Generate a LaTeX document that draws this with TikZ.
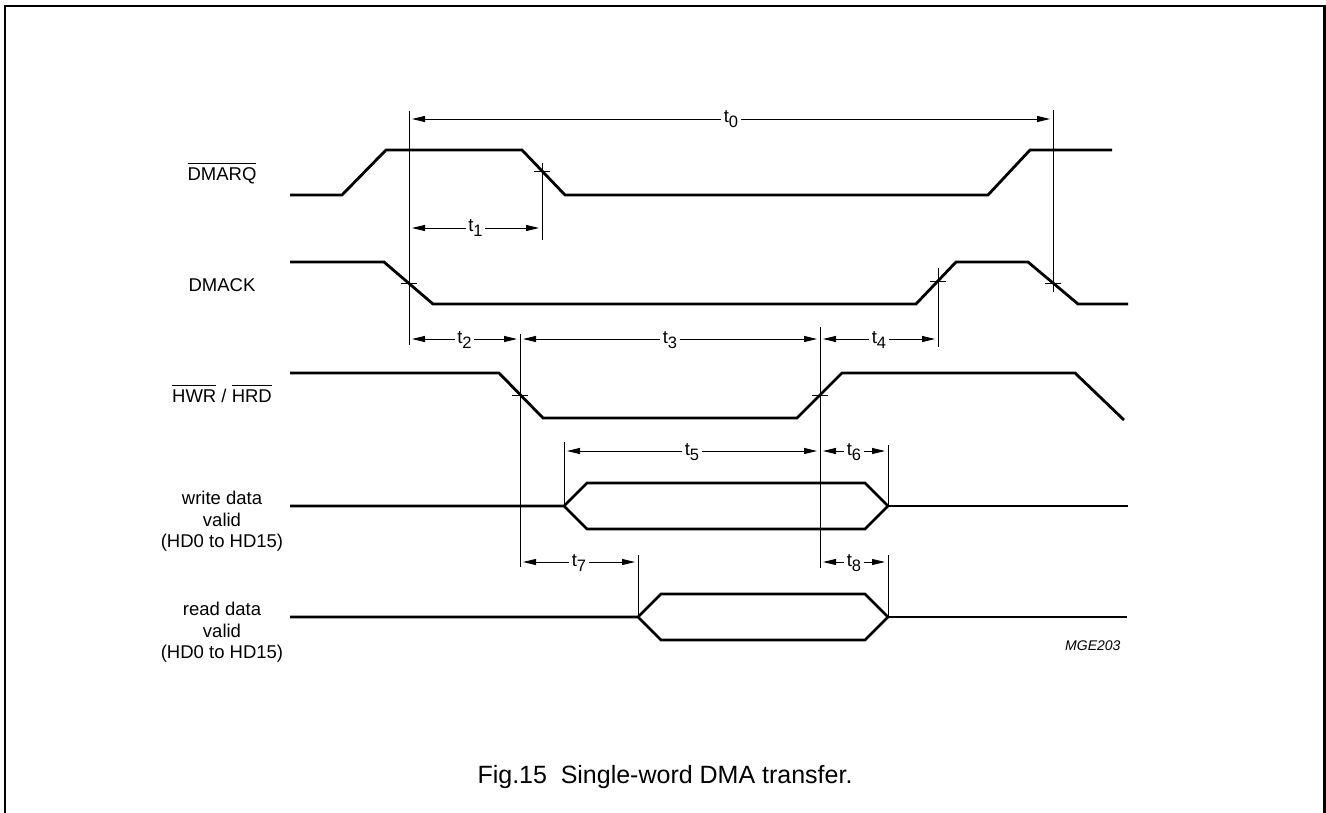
\documentclass[tikz,border=0pt]{standalone}
\usepackage{fontspec}
\setmainfont{Liberation Sans}
\usetikzlibrary{arrows.meta}
\newcommand\barsig[1]{\vbox{\hrule height 1.3pt\kern 3.5pt\hbox{#1}}}
\newcommand\tsub[1]{t\raisebox{-5pt}{\fontsize{16.5}{16.5}\selectfont #1}}
\tikzset{
  wave/.style={line width=2.8pt},
  guide/.style={line width=0.9pt},
  dim/.style={>={Triangle[length=13pt,width=6pt]}, <->, line width=0.9pt,
    shorten <=3pt, shorten >=3pt},
  tlab/.style={fill=white, inner sep=2.5pt, anchor=base, yshift=-4pt,
    font=\fontsize{18.5}{18.5}\selectfont},
  sig/.style={font=\fontsize{18.5}{21.5}\selectfont, align=center}
}
\begin{document}
\begin{tikzpicture}[x=1pt,y=-1pt]
      \useasboundingbox (0,0) rectangle (1326,813);
      \draw[line width=2.2pt] (5,813) -- (5,6) -- (1324.5,6) -- (1324.5,813);
      \node[sig,anchor=base] (dmarq) at (222,180.6) {\barsig{DMARQ}};
      \node[sig,anchor=base] (dmack) at (222,291.6) {DMACK};
      \node[sig,anchor=base] (hwr) at (222,402.6) {\barsig{HWR} / \barsig{HRD}};
      \node[sig] (wdata) at (222,521.5) {write data\\valid\\(HD0 to HD15)};
      \node[sig] (rdata) at (222,632.5) {read data\\valid\\(HD0 to HD15)};
      \node[font=\fontsize{14}{14}\selectfont\itshape, anchor=base east]
        (mge) at (1124,650) {MGE203};
      \node[font=\fontsize{25}{25}\selectfont, anchor=base west]
        (fig) at (474,783) {Fig.15\hspace{0.55em}Single-word DMA transfer.};
      % waveforms
      \draw[wave] (290,195) -- (342,195) -- (386,150) -- (522,150) -- (565,195)
        -- (988,195) -- (1030,150) -- (1112,150);
      \draw[wave] (290,262) -- (384,262) -- (433,304) -- (916,304) -- (956,262)
        -- (1028,262) -- (1078,304) -- (1128,304);
      \draw[wave] (290,373) -- (499,373) -- (543,418) -- (797,418) -- (842,373)
        -- (1075,373) -- (1124,420);
      \draw[wave] (290,506) -- (564,506) -- (587,483) -- (865,483) -- (888,506)
        -- (865,529) -- (587,529) -- (564,506);
      \draw[wave] (888,506) -- (1128,506);
      \draw[wave] (290,617) -- (638,617) -- (661,594) -- (865,594) -- (888,617)
        -- (865,640) -- (661,640) -- (638,617);
      \draw[wave] (888,617) -- (1127,617);
      % reference lines
      \draw
        (409,111) coordinate (a0) (409,345) coordinate (a1)
        (542,163) coordinate (b0) (542,240) coordinate (b1)
        (1053,110) coordinate (c0) (1053,292) coordinate (c1)
        (938,268) coordinate (d0) (938,347) coordinate (d1)
        (520,334) coordinate (e0) (520,567) coordinate (e1)
        (820,327) coordinate (f0) (820,568) coordinate (f1)
        (564,442) coordinate (g0) (564,506) coordinate (g1)
        (888,445) coordinate (h0) (888,506) coordinate (h1)
        (888,555) coordinate (i0) (888,617) coordinate (i1)
        (638,555) coordinate (j0) (638,617) coordinate (j1);
      \begin{scope}[guide]
        \draw (a0) to (a1);
        \draw (b0) to (b1);
        \draw (c0) to (c1);
        \draw (d0) to (d1);
        \draw (e0) to (e1);
        \draw (f0) to (f1);
        \draw (g0) to (g1);
        \draw (h0) to (h1);
        \draw (i0) to (i1);
        \draw (j0) to (j1);
        % crossing marks
        \draw (534,171) -- (550,171);
        \draw (401,283) -- (417,283);
        \draw (930,281) -- (946,281);
        \draw (1045,283) -- (1061,283);
        \draw (512,395) -- (528,395);
        \draw (812,395) -- (828,395);
      \end{scope}
      % timing arrows
      \draw
        (409,119) coordinate (t0l) (1053,119) coordinate (t0r)
        (409,228) coordinate (t1l) (542,228) coordinate (t1r)
        (409,339) coordinate (t2l) (520,339) coordinate (t2r)
        (520,339) coordinate (t3l) (820,339) coordinate (t3r)
        (820,339) coordinate (t4l) (938,339) coordinate (t4r)
        (564,451) coordinate (t5l) (820,451) coordinate (t5r)
        (820,451) coordinate (t6l) (888,451) coordinate (t6r)
        (520,562) coordinate (t7l) (638,562) coordinate (t7r)
        (820,562) coordinate (t8l) (888,562) coordinate (t8r);
      \begin{scope}[dim]
        \draw (t0l) -- node[tlab] (l0) {\tsub{0}} (t0r);
        \draw (t1l) -- node[tlab] (l1) {\tsub{1}} (t1r);
        \draw (t2l) -- node[tlab] (l2) {\tsub{2}} (t2r);
        \draw (t3l) -- node[tlab] (l3) {\tsub{3}} (t3r);
        \draw (t4l) -- node[tlab] (l4) {\tsub{4}} (t4r);
        \draw (t5l) -- node[tlab] (l5) {\tsub{5}} (t5r);
        \draw (t6l) -- node[tlab] (l6) {\tsub{6}} (t6r);
        \draw (t7l) -- node[tlab] (l7) {\tsub{7}} (t7r);
        \draw (t8l) -- node[tlab] (l8) {\tsub{8}} (t8r);
      \end{scope}
    \end{tikzpicture}
\end{document}
